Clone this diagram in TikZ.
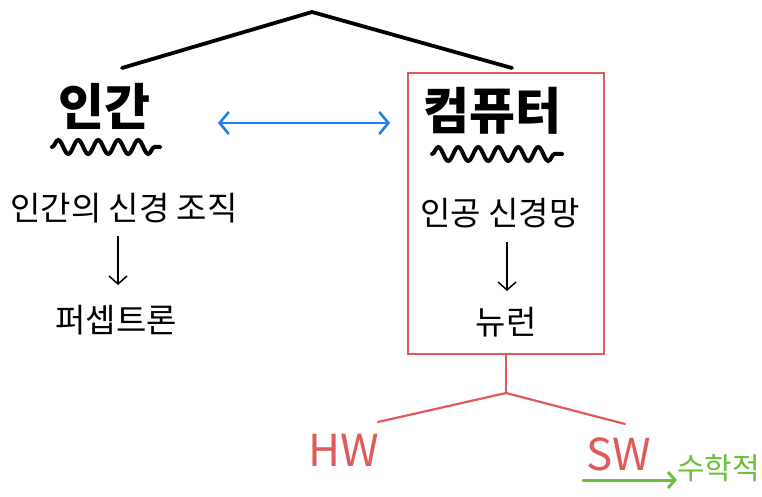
\documentclass[tikz,border=0pt]{standalone}
\usepackage{fontspec}
\newfontfamily\kr{Noto Sans CJK KR}
\usetikzlibrary{arrows.meta,decorations.pathmorphing}
\definecolor{boxred}{HTML}{E05A5A}
\definecolor{arrblue}{HTML}{1F80E8}
\definecolor{mathgreen}{HTML}{6CBF3C}
\tikzset{
  title/.style={font=\kr\bfseries\fontsize{50}{54}\selectfont, inner sep=0pt},
  label/.style={font=\kr\fontsize{33}{37}\selectfont, inner sep=0pt},
  hwsw/.style={font=\kr\fontsize{44}{48}\selectfont, text=boxred, inner sep=0pt},
  wavy/.style={line width=4pt, line cap=round, decorate, decoration={snake, amplitude=7pt, segment length=20pt}},
  thinarrow/.style={line width=1.5pt, -{Straight Barb[length=8pt, width=18pt]}},
  topline/.style={line width=3.8pt, line cap=round},
  redline/.style={line width=2.2pt, draw=boxred},
}
\begin{document}
\begin{tikzpicture}[x=1pt, y=-1pt]
\fill[white] (0,0) rectangle (762,497);
\useasboundingbox (0,0) rectangle (762,497);

% top branches
\coordinate (apex) at (312,12);
\coordinate (lt) at (122,68);
\coordinate (rt) at (512,68);
\draw[topline] (lt) -- (apex) -- (rt);

% human side
\node[title] (human) at (104,106) {인간};
\coordinate (hw1) at (52,147);
\coordinate (hw2) at (160,147);
\draw[wavy] (hw1) -- (hw2);
\node[label] (tissue) at (124,208) {인간의 신경 조직};
\node[label] (percep) at (116,320) {퍼셉트론};
\draw[thinarrow] (118,236) coordinate (ha) -- (118,285) coordinate (hb);

% computer box
\node[draw=boxred, line width=2pt, minimum width=196pt, minimum height=281pt, inner sep=0pt] (box) at (506,213.5) {};
\node[title] (comp) at (492,111) {컴퓨터};
\coordinate (cw1) at (432,154);
\coordinate (cw2) at (562,154);
\draw[wavy] (cw1) -- (cw2);
\node[label] (ann) at (500,213) {인공 신경망};
\node[label] (neuron) at (506,322) {뉴런};
\draw[thinarrow] (507,242) coordinate (ca) -- (507,291) coordinate (cb);

% blue double arrow
\coordinate (bl) at (218,123);
\coordinate (br) at (390,123);
\draw[arrblue, line width=2.6pt, {Straight Barb[length=9pt, width=22pt]}-{Straight Barb[length=9pt, width=22pt]}] (bl) -- (br);

% HW / SW tree
\coordinate (split) at (506,393);
\coordinate (hwend) at (378,422);
\coordinate (swend) at (625,424);
\draw[redline] (box.south) -- (split);
\draw[redline, line cap=round] (hwend) -- (split) -- (swend);
\node[hwsw] (hw) at (344,450) {HW};
\node[hwsw] (sw) at (619,454) {SW};

% math
\node[font=\kr\fontsize{30}{34}\selectfont, text=mathgreen, inner sep=0pt, anchor=west] (math) at (677,468) {수학적};
\coordinate (ga) at (583,480);
\draw[mathgreen, line width=3pt, line cap=round, -{Straight Barb[length=7pt, width=16pt]}] (ga) -- (math.west |- ga);
\end{tikzpicture}
\end{document}
